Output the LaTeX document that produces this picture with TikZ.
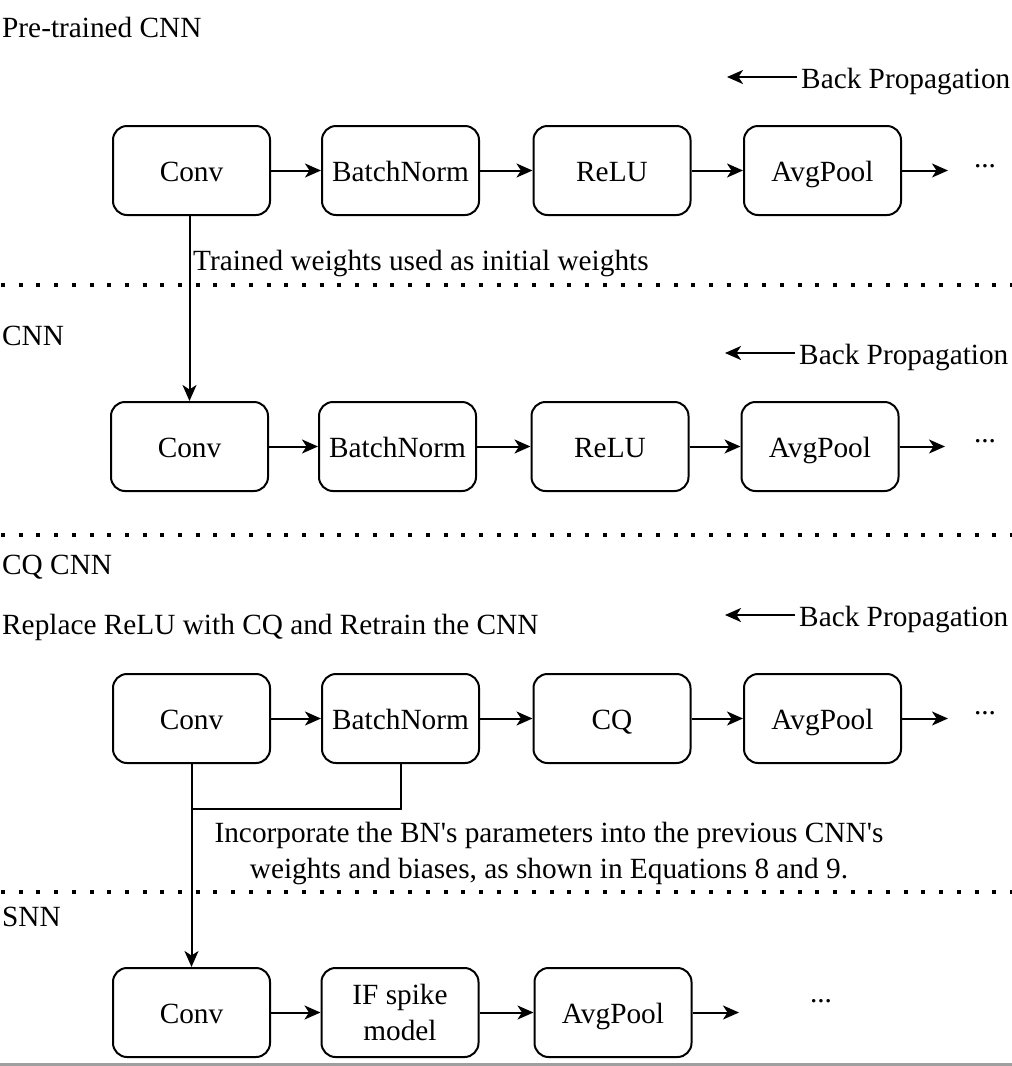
\documentclass[tikz,border=0pt]{standalone}
\usepackage{fontspec}
\setmainfont{Liberation Serif}
\usetikzlibrary{arrows.meta}
\newcommand\mainsz{\fontsize{29.3}{35.5}\selectfont}
\tikzset{
  blk/.style={draw, line width=2pt, rounded corners=14pt, minimum width=157pt, minimum height=89pt,
    inner sep=0pt, font=\mainsz, text height=26pt, text depth=4pt},
  blktwo/.style={draw, line width=2pt, rounded corners=14pt, minimum width=157pt, minimum height=89pt,
    inner sep=0pt, font=\mainsz, align=center},
  lbl/.style={inner sep=0pt, font=\mainsz, anchor=base west},
  conn/.style={line width=2pt, -{Stealth[length=16pt,width=14pt,inset=4.5pt]}},
  plain/.style={line width=2pt},
  dotline/.style={line width=4pt, dash pattern=on 4pt off 13.7pt},
  ell/.style={inner sep=0pt, font=\mainsz, anchor=base}
}
\begin{document}
\begin{tikzpicture}[x=1pt,y=-1pt]
\useasboundingbox (0,0) rectangle (1012,1066);
% separators
\draw[dotline] (1,285) -- (1012,285);
\draw[dotline] (1,535) -- (1012,535);
\draw[dotline] (1,892) -- (1012,892);
\fill[gray!75] (0,1063) rectangle (1012,1065.5);

% section labels
\node[lbl] (s1) at (2,37) {Pre-trained CNN};
\node[lbl] (s2) at (2,345) {CNN};
\node[lbl] (s3) at (2,574) {CQ CNN};
\node[lbl] (s3b) at (2,634) {Replace ReLU with CQ and Retrain the CNN};
\node[lbl] (s4) at (2,926) {SNN};

% back propagation labels
\node[lbl] (bp1) at (801,88) {Back Propagation};
\node[lbl] (bp2) at (799,364) {Back Propagation};
\node[lbl] (bp3) at (799,626) {Back Propagation};
\coordinate (bpa1) at (727,77);
\coordinate (bpa2) at (725,353);
\coordinate (bpa3) at (725,615);
\draw[conn] ([shift={(-4,-11)}]bp1.base west) -- (bpa1);
\draw[conn] ([shift={(-4,-11)}]bp2.base west) -- (bpa2);
\draw[conn] ([shift={(-4,-11)}]bp3.base west) -- (bpa3);

% row 1
\node[blk] (c1) at (191.5,170.5) {Conv};
\node[blk] (b1) at (400.5,170.5) {BatchNorm};
\node[blk] (r1) at (612,170.5) {ReLU};
\node[blk] (a1) at (822.5,170.5) {AvgPool};
\coordinate (e1) at (948,170.5);
\node[ell] (d1) at (985,167) {...};
\draw[conn] (c1) -- (b1);
\draw[conn] (b1) -- (r1);
\draw[conn] (r1) -- (a1);
\draw[conn] (a1) -- (e1);

% row 2
\node[blk] (c2) at (189.5,446.5) {Conv};
\node[blk] (b2) at (397.5,446.5) {BatchNorm};
\node[blk] (r2) at (610,446.5) {ReLU};
\node[blk] (a2) at (820,446.5) {AvgPool};
\coordinate (e2) at (945,446.5);
\node[ell] (d2) at (985,442) {...};
\draw[conn] (c2) -- (b2);
\draw[conn] (b2) -- (r2);
\draw[conn] (r2) -- (a2);
\draw[conn] (a2) -- (e2);

% row1 -> row2
\draw[conn] (c2.north |- c1.south) -- (c2.north);
\node[lbl] (tw) at (193,270) {Trained weights used as initial weights};

% row 3
\node[blk] (c3) at (191.5,718.5) {Conv};
\node[blk] (b3) at (400.5,718.5) {BatchNorm};
\node[blk] (q3) at (612,718.5) {CQ};
\node[blk] (a3) at (822.5,718.5) {AvgPool};
\coordinate (e3) at (948,718.5);
\node[ell] (d3) at (985,714) {...};
\draw[conn] (c3) -- (b3);
\draw[conn] (b3) -- (q3);
\draw[conn] (q3) -- (a3);
\draw[conn] (a3) -- (e3);

% row 4
\node[blk] (c4) at (191.5,1012.5) {Conv};
\node[blktwo] (f4) at (400,1012.5) {IF spike\\model};
\node[blk] (a4) at (613,1012.5) {AvgPool};
\coordinate (e4) at (739,1012.5);
\node[ell] (d4) at (821,1002) {...};
\draw[conn] (c4) -- (f4);
\draw[conn] (f4) -- (a4);
\draw[conn] (a4) -- (e4);

% row3 -> row4
\coordinate (j3) at (192,809);
\draw[conn] (c3.south) -- (c4.north);
\draw[plain] (b3.south) |- (j3);
\node[inner sep=0pt, font=\mainsz, align=center, anchor=base] (inc) at (549,878)
  {Incorporate the BN\textquotesingle s parameters into the previous CNN\textquotesingle s\\weights and biases, as shown in Equations 8 and 9.};
\end{tikzpicture}
\end{document}
